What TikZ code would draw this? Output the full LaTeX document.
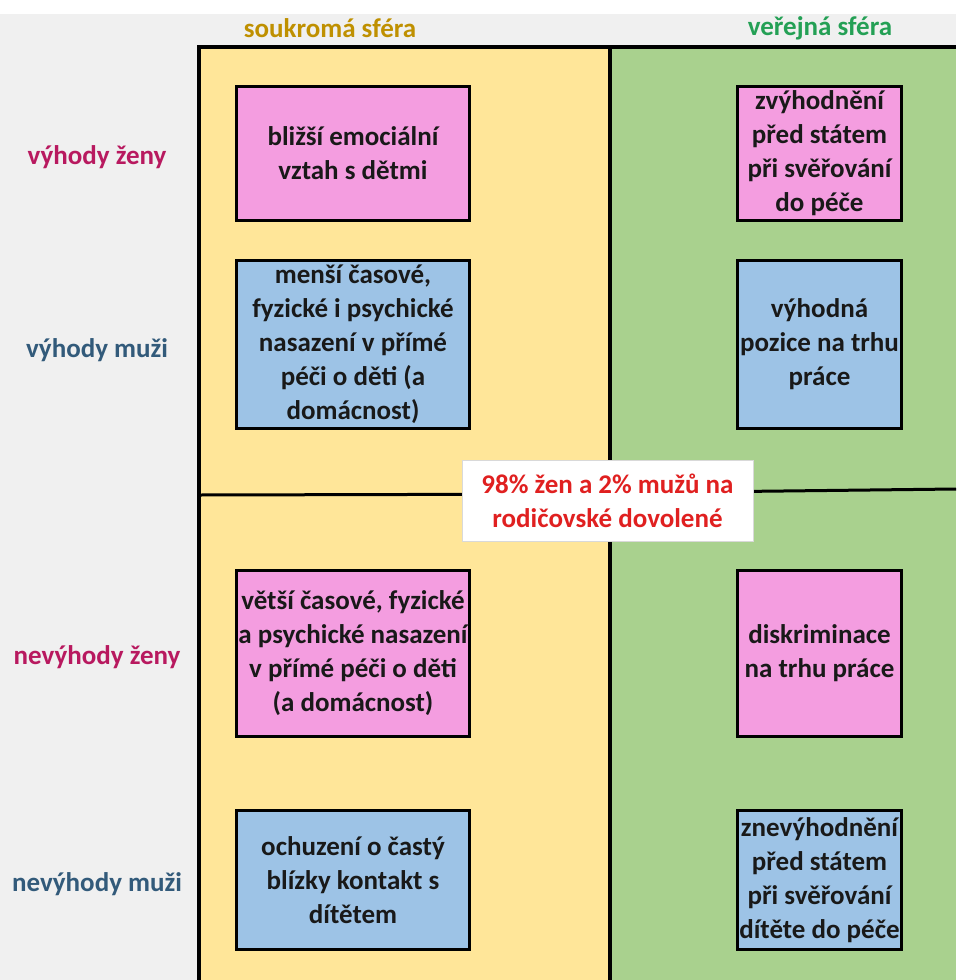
\documentclass[tikz,border=0pt]{standalone}
\usepackage{fontspec}
\setmainfont{Carlito}
\definecolor{pagegray}{HTML}{F0F0F0}
\definecolor{privfill}{HTML}{FFE699}
\definecolor{pubfill}{HTML}{A9D18E}
\definecolor{pinkbox}{HTML}{F49DE0}
\definecolor{bluebox}{HTML}{9DC3E6}
\definecolor{privhead}{HTML}{BF9000}
\definecolor{pubhead}{HTML}{24A055}
\definecolor{womenlbl}{HTML}{B8195F}
\definecolor{menlbl}{HTML}{325A7A}
\definecolor{notered}{HTML}{E02020}
\begin{document}
\begin{tikzpicture}[x=1pt,y=-1pt,
  txt/.style={font=\bfseries\fontsize{27}{34}\selectfont, align=center, inner sep=0pt},
  cellbox/.style={txt, draw=black, line width=3pt, text=black!90},
  leftbox/.style={cellbox, minimum width=233pt},
  rightbox/.style={cellbox, minimum width=164pt},
  rowlabel/.style={txt},
  header/.style={txt}]
  % page background
  \useasboundingbox (0,0) rectangle (956,980);
  \fill[white] (0,0) rectangle (956,14);
  \fill[pagegray] (0,14) rectangle (956,980);
  % the two spheres
  \fill[privfill] (199,47) rectangle (610,980);
  \fill[pubfill] (610,47) rectangle (956,980);
  \draw[line width=4pt] (199,980) -- (199,47) -- (956,47);
  \draw[line width=4pt] (610,47) -- (610,980);
  \draw[line width=3pt] (199,495) -- (610,494);
  \draw[line width=3pt] (610,493) -- (956,489);
  % headers
  \node[header, text=privhead] (hpriv) at (330,28) {soukromá sféra};
  \node[header, text=pubhead] (hpub) at (820,28) {veřejná sféra};
  % row labels
  \node[rowlabel, text=womenlbl] (l1) at (97,157) {výhody ženy};
  \node[rowlabel, text=menlbl] (l2) at (97,350) {výhody muži};
  \node[rowlabel, text=womenlbl] (l3) at (97,657) {nevýhody ženy};
  \node[rowlabel, text=menlbl] (l4) at (97,884) {nevýhody muži};
  % private sphere boxes
  \node[leftbox, fill=pinkbox, minimum height=134pt] (p1) at (353,153.5)
    {bližší emociální\\vztah s dětmi};
  \node[leftbox, fill=bluebox, minimum height=168pt] (p2) at (353,344.5)
    {menší časové,\\fyzické i psychické\\nasazení v přímé\\péči o děti (a\\domácnost)};
  \node[leftbox, fill=pinkbox, minimum height=166pt] (p3) at (353,653.5)
    {větší časové, fyzické\\a psychické nasazení\\v přímé péči o děti\\(a domácnost)};
  \node[leftbox, fill=bluebox, minimum height=139pt] (p4) at (353,880)
    {ochuzení o častý\\blízky kontakt s\\dítětem};
  % public sphere boxes
  \node[rightbox, fill=pinkbox, minimum height=134pt] (q1) at (819.5,153.5)
    {zvýhodnění\\před státem\\při svěřování\\do péče};
  \node[rightbox, fill=bluebox, minimum height=168pt] (q2) at (819.5,344.5)
    {výhodná\\pozice na trhu\\práce};
  \node[rightbox, fill=pinkbox, minimum height=166pt] (q3) at (819.5,653.5)
    {diskriminace\\na trhu práce};
  \node[rightbox, fill=bluebox, minimum height=139pt] (q4) at (819.5,880)
    {znevýhodnění\\před státem\\při svěřování\\dítěte do péče};
  % central note
  \node[txt, fill=white, draw=black!15, line width=0.6pt, text=notered,
        minimum width=291pt, minimum height=81pt] (note) at (607.5,500.5)
    {98\% žen a 2\% mužů na\\rodičovské dovolené};
\end{tikzpicture}
\end{document}
